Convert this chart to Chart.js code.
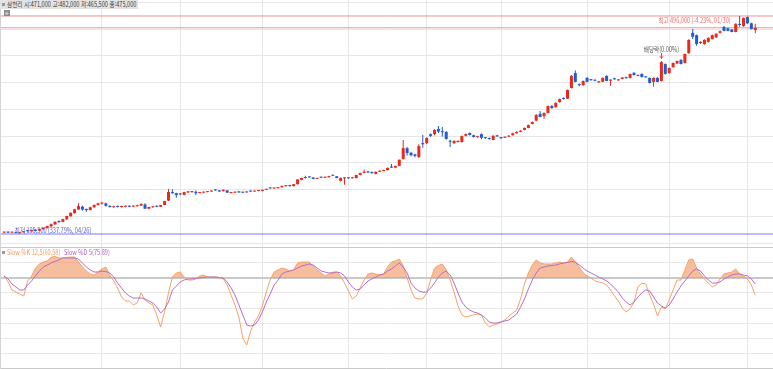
<!DOCTYPE html>
<html lang="ko">
<head>
<meta charset="UTF-8">
<title>일봉 + Slow Stochastic</title>
<script src="https://cdn.jsdelivr.net/npm/chart.js"></script>
<style>
    body { margin: 0; background: #fff; font-family: "Noto Sans CJK KR", sans-serif; }
    #wrap { position: relative; width: 773px; height: 369px; overflow: hidden; background: #fff; }
    #wrap canvas { position: absolute; left: 0; }
    #priceCanvas { top: 0; }
    #stochCanvas { top: 247px; }
    .leftLine { position: absolute; left: 0; top: 0; width: 1px; height: 369px; background: #d4d4d4; }
    #head { position: absolute; left: 0; top: 0; width: 138px; height: 9px; background: #e3e3e3; }
    .dot { position: absolute; left: 2px; width: 3px; height: 3px; background: #9a9a9a; }
    .small { position: absolute; white-space: nowrap; font-size: 7px; line-height: 9px; transform-origin: 0 50%; }
    #plusBox { position: absolute; left: 4px; top: 10px; width: 6px; height: 6px; background: #8c8c8c; color: #fff;
               font-size: 7px; line-height: 6px; text-align: center; }
</style>
</head>
<body>
<div id="wrap">
    <canvas id="priceCanvas" width="773" height="247"></canvas>
    <canvas id="stochCanvas" width="773" height="122"></canvas>
    <div class="leftLine"></div>
    <div id="head"><span class="dot" style="top:3px"></span><span class="small" id="headText" style="left:7px;top:0;color:#3c3c3c;transform:scaleX(0.8)"></span></div>
    <div id="plusBox">+</div>
    <span class="dot" style="top:251px"></span>
    <span class="small" style="left:7px;top:248px;color:#f59a5c;transform:scaleX(0.8)">Slow %K 12,5(60.58)</span>
    <span class="small" style="left:64px;top:248px;color:#a95fbb;transform:scaleX(0.8)">Slow %D 5(75.89)</span>
</div>

<script>
const stockName = "삼천리";

// daily candles, oldest first (04/26 low ... 01/30 high ... last day)
const open = [
    111000,112000,111000,112000,110500,111500,115000,113500,116000,114500,
    117000,119000,122000,125500,131500,130000,134500,140000,145500,152000,
    157000,153000,151000,156000,160000,162500,163000,158500,156000,158000,
    156500,157000,158000,157000,158000,159000,161000,153500,156000,158500,
    157000,160000,168000,183000,181000,180000,178000,182500,183000,183500,
    181500,182000,183000,184000,187500,186000,184500,186000,181500,182000,
    184000,183000,182500,185000,184000,185000,185000,187000,190500,189500,
    190000,191500,193500,195000,193500,197000,205000,208000,210000,209000,
    206500,209500,208500,209500,213000,211000,203000,207500,209000,207500,
    208000,213500,217000,219500,218500,215000,219000,220500,222000,228000,
    226500,229500,242000,261000,253000,250000,245500,270000,270000,286000,
    286000,295000,290000,290000,274000,270000,272000,272000,283000,288000,
    284000,280500,286000,279500,279000,275500,283500,280000,279500,281500,
    284000,287500,290000,293500,297000,304000,310000,322000,318000,323500,
    336000,334000,343000,350000,349000,368000,394500,375000,373000,386000,
    383000,382000,378000,379000,389500,381000,385000,381500,384000,386500,
    386000,395000,389500,393000,387500,386000,379000,386000,380500,410500,
    394500,405000,411500,418000,412500,430000,466000,462000,448000,446000,
    450000,455000,458000,466000,476500,474000,472000,467500,482000,478000,
    494000,483000,471000
];
const high = [
    113000,113000,112500,112500,112000,114000,115500,116000,117000,118500,
    120000,123000,127000,131000,133000,135500,141000,147000,153500,163000,
    158500,154000,157000,161000,164000,166000,164000,159500,158500,159000,
    158500,159000,159000,159500,160500,162500,163000,157000,158000,159000,
    160500,167500,188500,188000,182000,181000,183500,184500,185000,186000,
    183000,184000,185000,186000,188000,186500,187500,186500,183000,184000,
    184500,183500,184000,186000,185500,186000,187500,189000,191000,190500,
    192000,194500,195500,196000,197500,206000,208500,212000,211000,209500,
    208500,210500,210500,212000,214000,211500,209000,209500,209500,209500,
    214000,217500,223000,220500,219500,219500,221500,222500,226500,233000,
    230000,241000,275500,263000,254000,251000,268000,284500,280500,287000,
    294500,300500,298500,291000,276000,275000,275000,283500,287000,289000,
    285000,283000,287000,281000,280000,284000,285000,281000,282000,284000,
    288500,291000,293000,298000,303000,308500,322000,327000,324500,337000,
    338000,342500,349500,351500,365500,391000,399000,376000,381500,387000,
    384000,383000,380500,386500,390500,383500,386000,384000,387500,388000,
    393500,396000,392000,394000,389000,386500,387000,387000,416000,411500,
    404500,413500,417000,419000,429500,454500,473000,463000,451000,454500,
    458000,463000,465500,470000,478000,475000,473000,483000,496000,493500,
    495000,484000,482000
];
const low = [
    110000,110500,110000,109500,108500,111000,112500,113000,113500,114000,
    116500,118500,121500,125000,128500,129500,134000,139500,145000,151500,
    150000,148000,150500,155000,159000,161000,157500,155500,155000,155500,
    155500,156000,156000,156500,157000,158500,153000,152500,155000,156000,
    156500,159500,167000,180000,173000,177500,177500,181500,182000,178000,
    180500,181000,182500,183500,185500,183500,184000,181500,180500,181500,
    182000,181000,182000,183500,183500,184500,184500,186500,189000,189000,
    189500,191000,193000,193000,193000,196500,204000,207000,208500,206000,
    206000,208000,208000,209000,211500,207500,202000,196000,206500,207000,
    207500,213000,216500,217000,215500,214500,218500,220000,221500,226000,
    225500,229000,241000,248000,246500,245000,243500,262000,268000,281000,
    284000,288000,282000,276000,263000,268500,271000,271000,282000,283500,
    280000,279500,277000,277500,276000,275000,281500,277500,279000,281000,
    283500,287000,289500,293000,296500,303500,309000,316000,313000,323000,
    331000,333000,342000,347000,348500,367000,378000,371000,372000,378000,
    381000,380000,377000,378000,380000,371500,382500,381000,383500,384500,
    385000,390000,389000,386500,386000,376000,370000,378000,379500,392000,
    393500,404000,410500,410000,411500,429000,455000,443000,446000,445000,
    449000,454000,457000,465000,469000,469000,467000,467000,477000,477000,
    482000,472000,465500
];
const close = [
    112000,111000,112000,110500,111500,113000,113500,115500,114000,117500,
    119500,122500,126000,130000,129500,135000,140500,146000,152500,158000,
    152000,151000,156000,160000,163000,164000,158500,156500,157500,156500,
    157500,158000,157000,158500,159500,162000,153500,156500,157000,157000,
    160000,167000,183000,181000,177500,179000,183000,184000,184000,181000,
    182000,183500,184000,185500,186000,184000,187000,182000,182500,183000,
    182500,182000,183500,184000,185000,185500,187000,188500,189500,190000,
    191500,194000,195000,193500,197000,205500,208000,209500,209000,206500,
    208000,208500,210000,211500,212000,208000,208000,208500,207500,209000,
    213500,217000,219000,218000,217000,219000,221000,222000,226000,226500,
    229500,240500,261000,252500,248500,247500,265000,268000,279000,283000,
    293500,290500,289500,277500,272500,274000,273500,282500,286000,284500,
    281000,281500,279500,279000,277500,283000,282000,279000,281000,283000,
    287500,290000,292000,297000,302000,307500,320000,316500,323500,336000,
    332500,341500,348500,348500,364500,389500,379000,373000,380500,379000,
    382000,381000,379500,386000,380500,382500,383500,383000,386500,385500,
    393000,391000,391000,387500,387000,377000,386000,379000,414000,393000,
    403500,412500,416000,410500,428500,453500,459000,446000,450000,453500,
    457000,462000,464500,469000,469500,469500,467500,482000,480000,492500,
    483000,473000,475000
];

// Slow stochastic (12,5) and its signal
const slowK = [
    76.7,71.7,65,63.3,61.7,60,72.5,76.7,83.3,86.7,
    88.3,89.2,92.5,92.9,91.7,91.7,92.1,92.5,92.5,88.3,
    84.2,80.8,78.3,77.5,80,82.5,84.2,77.5,72.5,66.7,
    59.2,55.8,55.8,52.5,54.2,62.5,56.7,54.2,52.5,44.2,
    34.2,46.7,62.5,75.8,79.2,80,75.8,73.3,73.3,74.2,
    76.7,77.5,75.8,75.8,75.8,75.4,74.2,69.2,60.8,52.5,
    42.5,25,19.2,30.8,38.3,43.3,51.7,63.3,73.3,80,
    81.7,83.3,82.5,80.8,81.7,87.5,88.3,88.3,88.3,85,
    81.7,79.2,76.7,78.3,80,80,76.7,70.8,64.2,57.5,
    60,66.7,73.3,78.3,79.2,78.3,77.5,78.3,84.2,88.3,
    89.2,90.8,85,75,65,58.3,57.5,57.5,62.5,73.3,
    83.3,85.4,86.7,81.7,73.3,63.3,51.7,44.2,42.5,43.3,
    44.2,45,44.2,37.5,34.2,35.8,36.7,38.3,40,43.3,
    45.8,48.3,57.5,70,79.2,85.8,90,87.5,86.7,86.7,
    86.7,87.5,88.3,87.5,88.3,92.5,88.3,84.2,79.2,76.7,
    75,72.5,71.7,70.8,69.2,65,60,55.8,50,46.7,
    49.2,55,67.5,70.8,70,60.8,53.3,43.3,50.8,49.2,
    56.7,65,73.3,73.3,81.7,90,90.8,83.3,78.3,74.2,
    70.8,67.5,69.2,74.2,78.3,79.2,80,82.5,78.3,76.7,
    74.2,69.2,60.58
];
const slowD = [
    76.7,74.2,70,67.5,65,65,69.2,72.5,76.7,80.8,
    84.2,85.8,87.5,88.8,90,91.7,91.7,91.7,91.7,90.8,
    87.5,84.2,81.7,80,80,80.8,80.4,79.2,75.8,70.8,
    66.7,62.5,60,58.3,58.3,58.3,57.5,55.8,54.2,50.8,
    45.8,49.2,55,65,68.3,71.7,73.3,74.2,74.2,75,
    75,75.4,75.8,75.8,75.8,75.4,75,71.7,66.7,60.8,
    52.5,44.2,35.8,35,35.8,40,46.7,55,61.7,69.2,
    73.3,78.3,80,80.8,81.7,83.3,85,85.8,86.7,85.8,
    83.3,80.8,80,79.2,79.2,80,79.2,76.7,71.7,67.5,
    65,65.8,69.2,72.5,74.2,75.8,77.5,78.3,80.8,82.5,
    85,87.5,84.2,79.2,70.8,66.7,64.2,63.3,63.3,66.7,
    70.8,75.8,79.2,80.8,77.5,70.8,62.5,55,50.8,48.3,
    46.7,45.8,44.2,41.7,38.3,37.5,37.5,38.3,39.2,40,
    42.5,45,50.8,57.5,65.8,73.3,79.2,83.3,84.2,85,
    85.4,85.8,86.7,87.5,87.9,88.8,88.3,85.8,83.3,80.8,
    79.2,77.5,75.8,74.2,72.5,70,66.7,63.3,58.3,55,
    52.5,55,59.2,62.5,65,64.2,59.2,54.2,51.7,50,
    52.5,57.5,63.3,68.3,72.5,76.7,80.8,82.5,80.8,76.7,
    73.3,70.8,70.8,71.7,74.2,75.8,77.5,78.3,78.3,77.5,
    76.7,74.2,70
];

// first trading day of each month (Jun .. Feb), as candle index
const monthStarts = [25, 45, 66, 88, 108, 127, 149, 170, 190];
const priceGridLines = [92500, 140000, 187500, 235000, 282500, 330000, 377500, 425000, 472500, 520000];
const stochGridLines = [0, 12.5, 25, 37.5, 50, 62.5, 75, 87.5, 100];
const stochLevel = 75;
const highDate = "01/30";
const lowDate = "04/26";
const exDivIndex = 168;
const exDivText = "배당락(0.00%)";

const UP = "#e8291c";
const DOWN = "#1e5cd0";
const xMin = -1.07, xMax = 196.53;

const n = close.length;
const fmt = v => v.toLocaleString("en-US");
const last = n - 1;
const maxHigh = Math.max(...high);
const minLow = Math.min(...low);
const maxIdx = high.indexOf(maxHigh);
const minIdx = low.indexOf(minLow);
const colors = close.map((c, i) => c >= open[i] ? UP : DOWN);

document.getElementById("headText").textContent =
    stockName + " 시:" + fmt(open[last]) + " 고:" + fmt(high[last]) + " 저:" + fmt(low[last]) + " 종:" + fmt(close[last]);

// month gridlines; offset off so bar charts don't shift them half a tick
const makeX = () => ({
    type: "linear", min: xMin, max: xMax, offset: false,
    ticks: { display: false },
    grid: { color: "#e6e6e6", drawTicks: false, offset: false },
    border: { display: false },
    afterBuildTicks: s => { s.ticks = monthStarts.map(v => ({ value: v })); }
});

// price labels: 최고 / 최저 / 배당락
const markerPlugin = {
    id: "markers",
    afterDatasetsDraw(chart) {
        const { ctx } = chart;
        const x = chart.scales.x, y = chart.scales.y;
        ctx.save();
        ctx.font = '7px "Noto Sans CJK KR"';
        ctx.textBaseline = "middle";

        const upPct = ((close[last] - maxHigh) / maxHigh * 100).toFixed(2);
        const hiText = "최고 " + fmt(maxHigh) + " (" + upPct + "%, " + highDate + ")";
        let px = x.getPixelForValue(maxIdx) - 9, py = y.getPixelForValue(maxHigh) + 4;
        ctx.fillStyle = "#ec6a6a";
        ctx.save(); ctx.translate(px, py); ctx.scale(0.8, 1);
        ctx.textAlign = "right"; ctx.fillText(hiText, 0, 0); ctx.restore();

        const dnPct = ((close[last] - minLow) / minLow * 100).toFixed(2);
        const loText = "최저 " + fmt(minLow) + " (" + dnPct + "%, " + lowDate + ")";
        px = x.getPixelForValue(minIdx) - 5; py = y.getPixelForValue(minLow) - 4;
        ctx.fillStyle = "#5b5bc8";
        ctx.save(); ctx.translate(px, py); ctx.scale(0.8, 1);
        ctx.textAlign = "left"; ctx.fillText(loText, 0, 0); ctx.restore();

        px = x.getPixelForValue(exDivIndex); py = y.getPixelForValue(high[exDivIndex]);
        ctx.fillStyle = "#555";
        ctx.save(); ctx.translate(px, py - 12); ctx.scale(0.8, 1);
        ctx.textAlign = "center"; ctx.fillText(exDivText, 0, 0); ctx.restore();
        ctx.strokeStyle = "#d04848"; ctx.lineWidth = 1;
        ctx.beginPath(); ctx.moveTo(Math.round(px) + 0.5, py - 8); ctx.lineTo(Math.round(px) + 0.5, py - 2); ctx.stroke();
        ctx.beginPath(); ctx.moveTo(px - 2, py - 4); ctx.lineTo(px + 2, py - 4); ctx.stroke();
        ctx.restore();
    }
};

const hLine = (v, color) => ({
    type: "line", data: [{ x: xMin, y: v }, { x: xMax, y: v }],
    borderColor: color, borderWidth: 1, pointRadius: 0, order: 5
});

new Chart(document.getElementById("priceCanvas"), {
    type: "bar",
    data: {
        datasets: [
            {
                label: "body", data: open.map((o, i) => ({ x: i, y: [o, close[i]] })),
                backgroundColor: colors, barThickness: 3, minBarLength: 1,
                grouped: false, inflateAmount: 0, order: 1
            },
            {
                label: "wick", data: open.map((o, i) => ({ x: i, y: [low[i], high[i]] })),
                backgroundColor: colors, barThickness: 1,
                grouped: false, inflateAmount: 0, order: 2
            },
            hLine(maxHigh, "#f09090"),
            hLine(close[last], "#f09090"),
            hLine(minLow, "#7a7af0")
        ]
    },
    options: {
        responsive: false, animation: false, devicePixelRatio: 1,
        layout: { padding: 0 },
        plugins: { legend: { display: false }, tooltip: { enabled: false } },
        scales: {
            x: makeX(),
            y: {
                min: 85400, max: 524400,
                ticks: { display: false },
                grid: { color: "#e6e6e6", drawTicks: false },
                border: { display: false },
                afterBuildTicks: s => { s.ticks = priceGridLines.map(v => ({ value: v })); }
            }
        }
    },
    plugins: [markerPlugin]
});

new Chart(document.getElementById("stochCanvas"), {
    type: "line",
    data: {
        datasets: [
            {
                label: "Slow %D", data: slowD.map((v, i) => ({ x: i, y: v })),
                borderColor: "#b56dc6", borderWidth: 1, pointRadius: 0, fill: false, order: 0
            },
            {
                label: "Slow %K", data: slowK.map((v, i) => ({ x: i, y: v })),
                borderColor: "#f7a166", borderWidth: 1, pointRadius: 0, order: 1,
                fill: { target: { value: stochLevel }, above: "rgba(240,150,95,0.62)", below: "rgba(0,0,0,0)" }
            }
        ]
    },
    options: {
        responsive: false, animation: false, devicePixelRatio: 1,
        layout: { padding: 0 },
        plugins: { legend: { display: false }, tooltip: { enabled: false } },
        scales: {
            x: makeX(),
            y: {
                min: -0.83, max: 100.83,
                ticks: { display: false },
                grid: {
                    drawTicks: false,
                    color: c => (c.tick.value === stochLevel || c.tick.value === 0 || c.tick.value === 100) ? "#c9c9c9" : "#e8e8e8",
                    lineWidth: c => c.tick.value === stochLevel ? 2 : 1
                },
                border: { display: false },
                afterBuildTicks: s => { s.ticks = stochGridLines.map(v => ({ value: v })); }
            }
        }
    }
});
</script>
</body>
</html>
